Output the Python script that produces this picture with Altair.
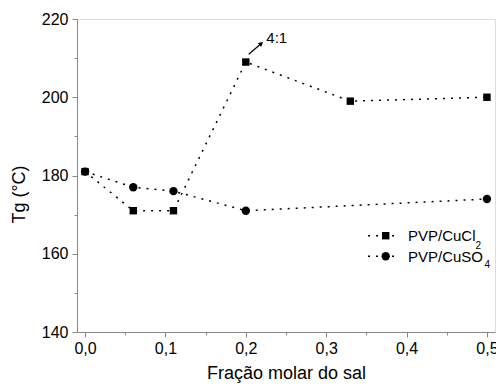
import altair as alt
import pandas as pd

# data
x_cucl2 = [0.0, 0.06, 0.11, 0.20, 0.33, 0.50]
y_cucl2 = [181, 171, 171, 209, 199, 200]
x_cuso4 = [0.0, 0.06, 0.11, 0.20, 0.50]
y_cuso4 = [181, 177, 176, 171, 174]

x_major = [0.0, 0.1, 0.2, 0.3, 0.4, 0.5]
x_minor = [0.05, 0.15, 0.25, 0.35, 0.45]
y_major = [140, 160, 180, 200, 220]
y_minor = [150, 170, 190, 210]

arrow_x = [0.2037, 0.2185]
arrow_y = [211.0, 213.6]
label_text = ["4:1"]
label_x = [0.2255]
label_y = [213.9]

legend_labels = ["PVP/CuCl", "PVP/CuSO"]
legend_subs = ["2", "4"]

FONT = "Liberation Sans"
W, H = 418, 313

df1 = pd.DataFrame({"x": x_cucl2, "y": y_cucl2})
df2 = pd.DataFrame({"x": x_cuso4, "y": y_cuso4})

xscale = alt.Scale(domain=[-0.01, 0.51], nice=False, zero=False)
yscale = alt.Scale(domain=[140, 220], nice=False, zero=False)

xaxis = alt.Axis(values=x_major, labelExpr="replace(format(datum.value, '.1f'), '.', ',')",
                 title="Fração molar do sal", titleFontSize=18, titleFontWeight="normal",
                 titleY=46, titleBaseline="alphabetic", labelFontSize=16, tickSize=5,
                 labelPadding=3, grid=False, orient="bottom")
yaxis = alt.Axis(values=y_major, format="d", title="Tg (°C)", titleFontSize=18,
                 titleFontWeight="normal", titleAngle=-90, titleX=-53, titleY=175,
                 titleAlign="center", titleBaseline="alphabetic", labelFontSize=16,
                 tickSize=5, labelPadding=4, grid=False, orient="left")

X = alt.X("x:Q", scale=xscale, axis=xaxis)
Y = alt.Y("y:Q", scale=yscale, axis=yaxis)

dash = [2, 6]

line1 = alt.Chart(df1).mark_line(color="black", strokeDash=dash, strokeWidth=1.5).encode(x=X, y=Y)
pts1 = alt.Chart(df1).mark_point(shape="square", filled=True, color="black", size=55, opacity=1).encode(x=X, y=Y)
line2 = alt.Chart(df2).mark_line(color="black", strokeDash=dash, strokeWidth=1.5).encode(x=X, y=Y)
pts2 = alt.Chart(df2).mark_point(shape="circle", filled=True, color="black", size=70, opacity=1).encode(x=X, y=Y)

arrow_df = pd.DataFrame({"x": [arrow_x[0]], "y": [arrow_y[0]], "x2": [arrow_x[1]], "y2": [arrow_y[1]]})
arrow = alt.Chart(arrow_df).mark_rule(color="black", strokeWidth=1.2).encode(
    x=alt.X("x:Q", scale=xscale, axis=xaxis), y=alt.Y("y:Q", scale=yscale, axis=yaxis),
    x2="x2:Q", y2="y2:Q")
head = alt.Chart(pd.DataFrame({"x": [arrow_x[1]], "y": [arrow_y[1]]})).mark_point(
    shape="triangle", filled=True, color="black", size=28, angle=50, opacity=1).encode(x=X, y=Y)
ann = alt.Chart(pd.DataFrame({"x": label_x, "y": label_y, "t": label_text})).mark_text(
    align="left", baseline="alphabetic", font=FONT, fontSize=15, color="black").encode(x=X, y=Y, text="t:N")

# minor ticks layer
minor = alt.Chart(pd.DataFrame({"x": [0.0], "y": [140]})).mark_point(opacity=0).encode(
    x=alt.X("x:Q", scale=xscale, axis=alt.Axis(values=x_minor, labels=False, tickSize=3, domain=False,
                                               title=None, grid=False, orient="bottom")),
    y=alt.Y("y:Q", scale=yscale, axis=alt.Axis(values=y_minor, labels=False, tickSize=3, domain=False,
                                               title=None, grid=False, orient="left")))

# legend (pixel positions relative to the plot area)
leg_df = pd.DataFrame({"lab": legend_labels, "sub": legend_subs, "ys": [216.7, 237.3],
                       "yt": [222.3, 243.3], "ysub": [229.5, 249.0], "xsub": [398.5, 407.5]})
leg_lines = []
for i in range(2):
    row = leg_df.iloc[[i]]
    ys = float(row["ys"].iloc[0])
    leg_lines.append(alt.Chart(row).mark_rule(color="black", strokeDash=dash, strokeWidth=1.5).encode(
        x=alt.value(291), x2=alt.value(320), y=alt.value(ys)))
    leg_lines.append(alt.Chart(row).mark_point(shape="square" if i == 0 else "circle", filled=True,
                                               color="black", size=55 if i == 0 else 70, opacity=1).encode(
        x=alt.value(308.7), y=alt.value(ys)))
    leg_lines.append(alt.Chart(row).mark_text(align="left", baseline="alphabetic", font=FONT, fontSize=15,
                                              color="black").encode(
        x=alt.value(331), y=alt.value(float(row["yt"].iloc[0])), text="lab:N"))
    leg_lines.append(alt.Chart(row).mark_text(align="left", baseline="alphabetic", font=FONT, fontSize=10,
                                              color="black").encode(
        x=alt.value(float(row["xsub"].iloc[0])), y=alt.value(float(row["ysub"].iloc[0])), text="sub:N"))

main = alt.layer(line1, line2, pts1, pts2, arrow, head, ann, *leg_lines)

chart = alt.layer(main, minor).resolve_axis(x="independent", y="independent").properties(
    width=W, height=H,
    autosize=alt.AutoSizeParams(type="none"),
    padding={"left": 69, "top": 11, "right": 488 - 69 - W, "bottom": 375 - 11 - H},
).configure_view(stroke="black", strokeWidth=1.5).configure_axis(
    domainColor="black", domainWidth=1.5, tickColor="black", tickWidth=1.2,
    labelColor="black", titleColor="black", labelFont=FONT, titleFont=FONT,
).configure(background="white")

chart.save("out.html", embed_options={"renderer": "svg", "actions": False})
